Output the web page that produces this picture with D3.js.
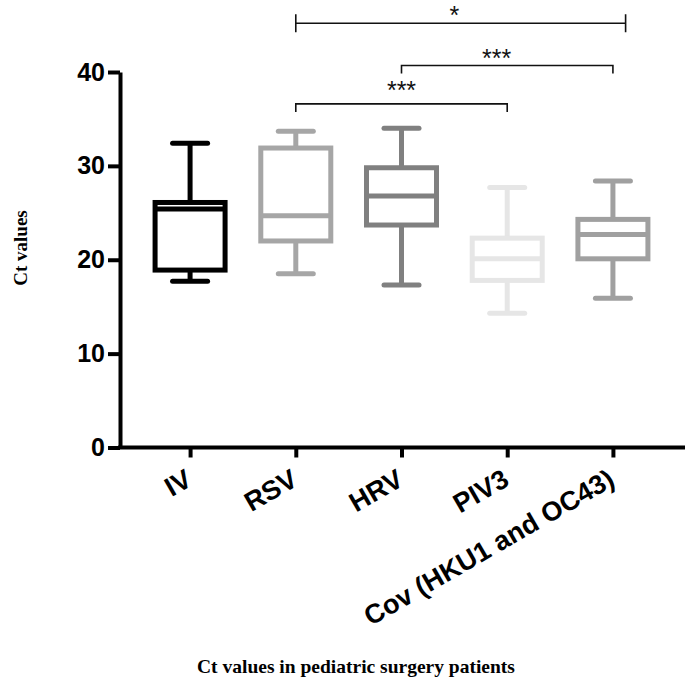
<!DOCTYPE html>
<html>
<head>
<meta charset="utf-8">
<script src="https://cdn.jsdelivr.net/npm/d3@7"></script>
<style>
  body { margin: 0; background: #fff; }
  svg { display: block; }
</style>
</head>
<body>
<svg id="chart" width="685" height="685"></svg>
<script>
// groups and box values
var groups = ["IV", "RSV", "HRV", "PIV3", "Cov (HKU1 and OC43)"];
var colors = ["#000000", "#a6a6a6", "#808080", "#e6e6e6", "#a0a0a0"];
var whiskerLow  = [17.7, 18.5, 17.3, 14.3, 15.9];
var boxLow      = [18.9, 22.0, 23.7, 17.8, 20.1];
var medians     = [25.4, 24.7, 26.8, 20.1, 22.7];
var boxHigh     = [26.1, 31.9, 29.8, 22.3, 24.3];
var whiskerHigh = [32.4, 33.7, 34.0, 27.7, 28.4];
var yTicks = [0, 10, 20, 30, 40];

// significance brackets: from / to (group index), line level, label position
var sigFrom   = [1, 2, 1];
var sigTo     = [4.12, 4, 3];
var sigLevel  = [45.2, 40.7, 36.6];
var sigLabelX = [2.5, 2.9, 2.0];
var sigLabelY = [46.6, 42.0, 38.6];
var sigText   = ["*", "***", "***"];
var sigBothWays = [true, false, false];

var svg = d3.select("#chart");

var x = d3.scalePoint()
    .domain(groups)
    .range([120, 683])
    .padding(0.663);

var y = d3.scaleLinear()
    .domain([0, 40])
    .range([447.5, 72]);

var step = x.step();
function xi(i) { return x(groups[0]) + i * step; }

// y axis
var yAxis = svg.append("g")
    .attr("transform", "translate(120,0)")
    .call(d3.axisLeft(y).tickValues(yTicks).tickSize(12).tickSizeOuter(0).tickPadding(3));
yAxis.select(".domain").attr("stroke", "#000").attr("stroke-width", 4);
yAxis.selectAll(".tick line").attr("stroke", "#000").attr("stroke-width", 4);
yAxis.selectAll(".tick text")
    .attr("fill", "#000")
    .style("font-family", "'Liberation Sans', Arial, sans-serif")
    .style("font-weight", "bold")
    .style("font-size", "25px");

// x axis
var xAxis = svg.append("g")
    .attr("transform", "translate(0,447.5)")
    .call(d3.axisBottom(x).tickSize(10).tickSizeOuter(0));
xAxis.select(".domain").attr("stroke", "#000").attr("stroke-width", 4)
    .attr("d", "M118,0H685");
xAxis.selectAll(".tick line").attr("stroke", "#000").attr("stroke-width", 4);
xAxis.selectAll(".tick text")
    .attr("fill", "#000")
    .attr("text-anchor", "end")
    .attr("x", 0)
    .attr("y", 0)
    .attr("dy", null)
    .attr("transform", "translate(3,37) rotate(-30)")
    .style("font-family", "'Liberation Sans', Arial, sans-serif")
    .style("font-weight", "bold")
    .style("font-size", "27px");

// boxes
var boxW = 70, capW = 35, sw = 5;
var box = svg.append("g").selectAll("g")
    .data(groups)
    .enter().append("g")
    .attr("stroke", function (d, i) { return colors[i]; })
    .attr("stroke-width", sw)
    .attr("fill", "none");

box.append("line")
    .attr("x1", function (d) { return x(d); })
    .attr("x2", function (d) { return x(d); })
    .attr("y1", function (d, i) { return y(whiskerHigh[i]); })
    .attr("y2", function (d, i) { return y(boxHigh[i]); });
box.append("line")
    .attr("x1", function (d) { return x(d); })
    .attr("x2", function (d) { return x(d); })
    .attr("y1", function (d, i) { return y(boxLow[i]); })
    .attr("y2", function (d, i) { return y(whiskerLow[i]); });
box.append("line")
    .attr("stroke-linecap", "round")
    .attr("x1", function (d) { return x(d) - capW / 2; })
    .attr("x2", function (d) { return x(d) + capW / 2; })
    .attr("y1", function (d, i) { return y(whiskerHigh[i]); })
    .attr("y2", function (d, i) { return y(whiskerHigh[i]); });
box.append("line")
    .attr("stroke-linecap", "round")
    .attr("x1", function (d) { return x(d) - capW / 2; })
    .attr("x2", function (d) { return x(d) + capW / 2; })
    .attr("y1", function (d, i) { return y(whiskerLow[i]); })
    .attr("y2", function (d, i) { return y(whiskerLow[i]); });
box.append("rect")
    .attr("x", function (d) { return x(d) - boxW / 2; })
    .attr("width", boxW)
    .attr("y", function (d, i) { return y(boxHigh[i]); })
    .attr("height", function (d, i) { return y(boxLow[i]) - y(boxHigh[i]); });
box.append("line")
    .attr("x1", function (d) { return x(d) - boxW / 2; })
    .attr("x2", function (d) { return x(d) + boxW / 2; })
    .attr("y1", function (d, i) { return y(medians[i]); })
    .attr("y2", function (d, i) { return y(medians[i]); });

// significance brackets
var sig = svg.append("g").selectAll("g")
    .data(sigText)
    .enter().append("g");

sig.append("path")
    .attr("fill", "none")
    .attr("stroke", "#111")
    .attr("stroke-width", 1.6)
    .attr("d", function (d, i) {
        var x1 = xi(sigFrom[i]), x2 = xi(sigTo[i]), ly = y(sigLevel[i]);
        if (sigBothWays[i]) {
            return "M" + x1 + "," + (ly - 9) + "V" + (ly + 9) + "M" + x1 + "," + ly +
                "H" + x2 + "M" + x2 + "," + (ly - 9) + "V" + (ly + 9);
        }
        return "M" + x1 + "," + (ly + 8) + "V" + ly + "H" + x2 + "V" + (ly + 8);
    });

sig.append("text")
    .attr("x", function (d, i) { return xi(sigLabelX[i]); })
    .attr("y", function (d, i) { return y(sigLabelY[i]) + 14; })
    .attr("text-anchor", "middle")
    .attr("fill", "#111")
    .style("font-family", "'Liberation Sans', Arial, sans-serif")
    .style("font-size", "25px")
    .text(function (d) { return d; });

// axis titles
svg.append("text")
    .attr("transform", "translate(27,248) rotate(-90)")
    .attr("text-anchor", "middle")
    .style("font-family", "'Liberation Serif', 'Times New Roman', serif")
    .style("font-weight", "bold")
    .style("font-size", "19px")
    .text("Ct values");

svg.append("text")
    .attr("x", 356)
    .attr("y", 673)
    .attr("text-anchor", "middle")
    .style("font-family", "'Liberation Serif', 'Times New Roman', serif")
    .style("font-weight", "bold")
    .style("font-size", "19.5px")
    .text("Ct values in pediatric surgery patients");
</script>
</body>
</html>
